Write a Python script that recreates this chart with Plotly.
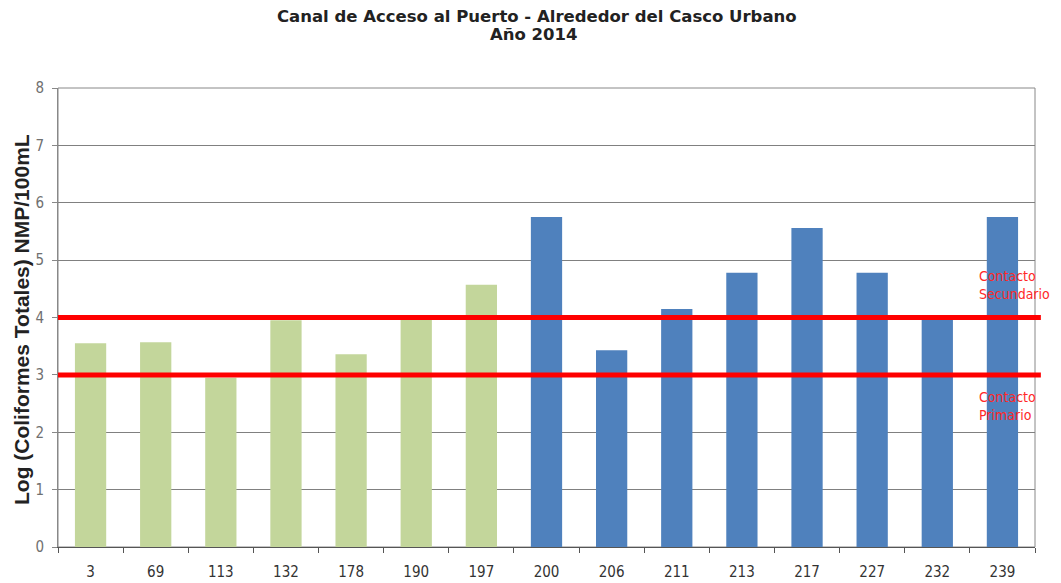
import plotly.graph_objects as go

categories = ["3", "69", "113", "132", "178", "190", "197", "200", "206", "211", "213", "217", "227", "232", "239"]
values = [3.55, 3.57, 2.95, 3.95, 3.36, 3.96, 4.57, 5.75, 3.43, 4.15, 4.78, 5.56, 4.78, 3.98, 5.75]
group_a_count = 7  # first 7 stations (green), rest blue
thresholds = [4, 3]
threshold_labels = ["Contacto<br>Secundario", "Contacto<br>Primario"]
y_ticks = [0, 1, 2, 3, 4, 5, 6, 7, 8]
title_lines = ["Canal de Acceso al Puerto - Alrededor del Casco Urbano", "Año 2014"]
y_title = "Log (Coliformes Totales) NMP/100mL"

NARROW = "Liberation Sans Narrow, DejaVu Sans Condensed, Arial Narrow, Liberation Sans"
colors = ["#c3d69b"] * group_a_count + ["#4f81bd"] * (len(categories) - group_a_count)

fig = go.Figure()
fig.add_trace(go.Bar(x=categories, y=values, marker=dict(color=colors, line=dict(width=0)),
                     width=0.48, showlegend=False))

for t, lab, yc in zip(thresholds, threshold_labels, [4.56, 2.46]):
    fig.add_shape(type="line", xref="paper", yref="y", x0=0, x1=1.006, y0=t, y1=t,
                  line=dict(color="#ff0000", width=5), layer="above")
    fig.add_annotation(xref="paper", yref="y", x=1.0, xshift=-58, y=yc, text=lab, showarrow=False,
                       xanchor="left", yanchor="middle", align="left",
                       font=dict(family=NARROW, size=14, color="#ff2828"))

fig.add_shape(type="rect", xref="paper", yref="paper", x0=0, x1=1, y0=0, y1=1,
              line=dict(color="#888888", width=1), layer="below")

# title lines
fig.add_annotation(xref="paper", yref="paper", x=0.490, y=1.1547, text="<b>" + title_lines[0] + "</b>",
                   showarrow=False, xanchor="center", yanchor="middle",
                   font=dict(family="DejaVu Sans, Liberation Sans, Arial", size=16.5, color="#222222"))
fig.add_annotation(xref="paper", yref="paper", x=0.487, y=1.1155, text="<b>" + title_lines[1] + "</b>",
                   showarrow=False, xanchor="center", yanchor="middle",
                   font=dict(family="DejaVu Sans, Liberation Sans, Arial", size=16.5, color="#222222"))
# y-axis title
fig.add_annotation(xref="paper", yref="paper", x=-0.0368, y=0.4946, text="<b>" + y_title + "</b>",
                   showarrow=False, xanchor="center", yanchor="middle", textangle=-90,
                   font=dict(family="Liberation Sans, Arial", size=21, color="#222222"))

fig.update_layout(
    width=1053, height=575,
    margin=dict(l=50, r=26, t=80, b=36, autoexpand=False),
    paper_bgcolor="white", plot_bgcolor="white",
    bargap=0.52,
    xaxis=dict(type="category", showline=True, linecolor="#555555", linewidth=1,
               ticks="outside", tickson="boundaries", ticklen=5, tickcolor="#555555",
               ticklabelstandoff=11, automargin=False,
               tickfont=dict(family=NARROW, size=15, color="#333333"),
               showgrid=False, mirror=False),
    yaxis=dict(range=[0, 8], tickvals=y_ticks, showline=True, linecolor="#888888", linewidth=1,
               ticks="outside", ticklen=5, tickcolor="#888888",
               ticklabelstandoff=5, automargin=False,
               showgrid=True, gridcolor="#808080", gridwidth=1,
               tickfont=dict(family=NARROW, size=15, color="#707070"),
               zeroline=False),
)

fig.write_html("out.html")
